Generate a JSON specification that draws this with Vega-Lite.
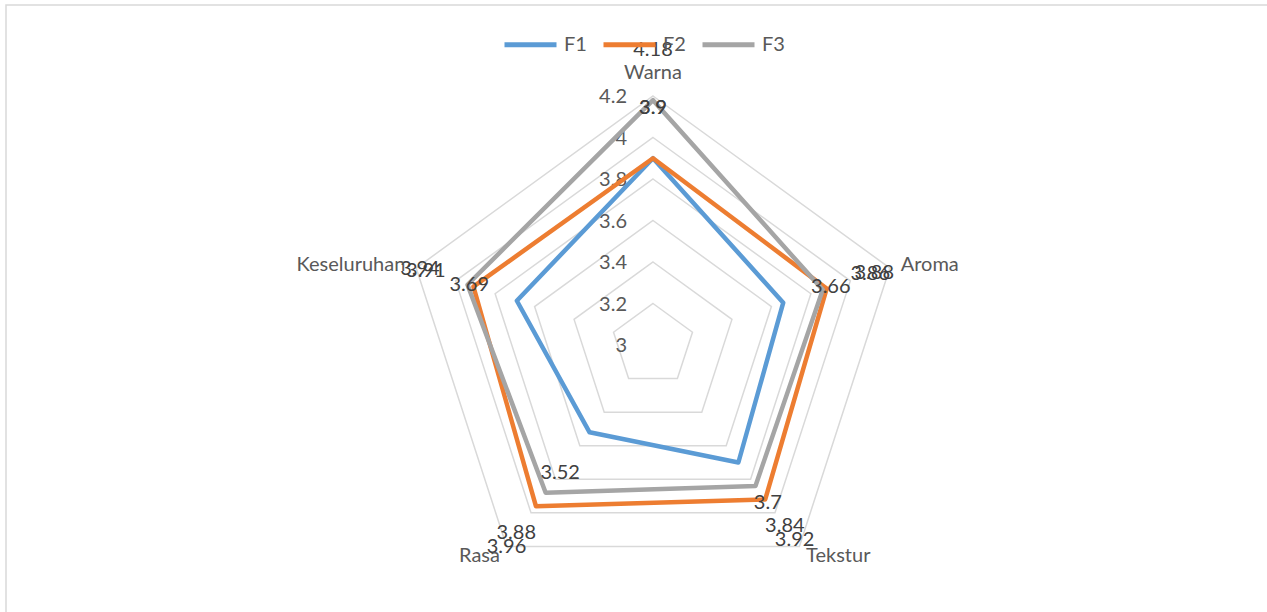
{
  "$schema": "https://vega.github.io/schema/vega-lite/v6.json",
  "width": 1265,
  "height": 610,
  "autosize": {"type": "none"},
  "padding": {"left": 6, "top": 5, "right": 0, "bottom": 0},
  "background": "white",
  "view": {"stroke": "#D9D9D9", "strokeWidth": 1.5},
  "config": {"font": "Lato"},
  "datasets": {
    "scores": [
      {"axis": "Warna", "series": "F1", "value": 3.9},
      {"axis": "Aroma", "series": "F1", "value": 3.66},
      {"axis": "Tekstur", "series": "F1", "value": 3.7},
      {"axis": "Rasa", "series": "F1", "value": 3.52},
      {"axis": "Keseluruhan", "series": "F1", "value": 3.69},
      {"axis": "Warna", "series": "F2", "value": 3.9},
      {"axis": "Aroma", "series": "F2", "value": 3.88},
      {"axis": "Tekstur", "series": "F2", "value": 3.92},
      {"axis": "Rasa", "series": "F2", "value": 3.96},
      {"axis": "Keseluruhan", "series": "F2", "value": 3.91},
      {"axis": "Warna", "series": "F3", "value": 4.18},
      {"axis": "Aroma", "series": "F3", "value": 3.86},
      {"axis": "Tekstur", "series": "F3", "value": 3.84},
      {"axis": "Rasa", "series": "F3", "value": 3.88},
      {"axis": "Keseluruhan", "series": "F3", "value": 3.94}
    ],
    "levels": [
      {"level": 3}, {"level": 3.2}, {"level": 3.4}, {"level": 3.6},
      {"level": 3.8}, {"level": 4}, {"level": 4.2}
    ],
    "axes": [
      {"axis": "Warna"}, {"axis": "Aroma"}, {"axis": "Tekstur"},
      {"axis": "Rasa"}, {"axis": "Keseluruhan"}
    ]
  },
  "layer": [
    {
      "data": {"name": "levels"},
      "transform": [
        {"filter": "datum.level > 3"},
        {"calculate": "['Warna','Aroma','Tekstur','Rasa','Keseluruhan']", "as": "axisList"},
        {"flatten": ["axisList"], "as": ["axis"]},
        {"calculate": "indexof(['Warna','Aroma','Tekstur','Rasa','Keseluruhan'], datum.axis)", "as": "i"},
        {"calculate": "datum.i * 2 * PI / 5", "as": "a"},
        {"calculate": "(datum.level - 3) * sin(datum.a)", "as": "px"},
        {"calculate": "(datum.level - 3) * cos(datum.a)", "as": "py"}
      ],
      "mark": {"type": "line", "interpolate": "linear-closed", "stroke": "#D9D9D9", "strokeWidth": 1.5},
      "encoding": {
        "x": {"field": "px", "type": "quantitative", "scale": {"domain": [-3.1181, 2.9783], "nice": false, "zero": false}, "axis": null},
        "y": {"field": "py", "type": "quantitative", "scale": {"domain": [-1.3012, 1.6386], "nice": false, "zero": false}, "axis": null},
        "detail": {"field": "level", "type": "nominal"},
        "order": {"field": "i", "type": "quantitative"}
      }
    },
    {
      "data": {"name": "levels"},
      "transform": [
        {"calculate": "0", "as": "px"},
        {"calculate": "datum.level - 3", "as": "py"}
      ],
      "mark": {"type": "text", "align": "right", "baseline": "middle", "dx": -26, "dy": 1, "fontSize": 20, "color": "#595959", "font": "Lato"},
      "encoding": {
        "x": {"field": "px", "type": "quantitative", "scale": {"domain": [-3.1181, 2.9783], "nice": false, "zero": false}, "axis": null},
        "y": {"field": "py", "type": "quantitative", "scale": {"domain": [-1.3012, 1.6386], "nice": false, "zero": false}, "axis": null},
        "text": {"field": "level", "type": "nominal"}
      }
    },
    {
      "data": {"name": "scores"},
      "transform": [
        {"calculate": "indexof(['Warna','Aroma','Tekstur','Rasa','Keseluruhan'], datum.axis)", "as": "i"},
        {"calculate": "datum.i * 2 * PI / 5", "as": "a"},
        {"calculate": "(datum.value - 3) * sin(datum.a)", "as": "px"},
        {"calculate": "(datum.value - 3) * cos(datum.a)", "as": "py"}
      ],
      "mark": {"type": "line", "interpolate": "linear-closed", "strokeWidth": 4.5, "strokeJoin": "round", "strokeCap": "round"},
      "encoding": {
        "x": {"field": "px", "type": "quantitative", "scale": {"domain": [-3.1181, 2.9783], "nice": false, "zero": false}, "axis": null},
        "y": {"field": "py", "type": "quantitative", "scale": {"domain": [-1.3012, 1.6386], "nice": false, "zero": false}, "axis": null},
        "color": {
          "field": "series", "type": "nominal",
          "scale": {"domain": ["F1", "F2", "F3"], "range": ["#5B9BD5", "#ED7D31", "#A5A5A5"]},
          "legend": {
            "title": null, "orient": "none", "legendX": 496, "legendY": 11,
            "direction": "horizontal", "symbolType": "stroke", "symbolSize": 2704,
            "symbolStrokeWidth": 5, "labelFontSize": 20, "labelFont": "Lato",
            "labelColor": "#595959", "columnPadding": 6, "labelOffset": 5
          }
        },
        "order": {"field": "i", "type": "quantitative"}
      }
    },
    {
      "data": {"name": "scores"},
      "transform": [
        {"calculate": "indexof(['Warna','Aroma','Tekstur','Rasa','Keseluruhan'], datum.axis)", "as": "i"},
        {"calculate": "datum.i * 2 * PI / 5", "as": "a"},
        {"calculate": "(datum.value - 3 + 0.241) * sin(datum.a)", "as": "px"},
        {"calculate": "(datum.value - 3 + 0.241) * cos(datum.a)", "as": "py"}
      ],
      "mark": {"type": "text", "align": "center", "baseline": "middle", "fontSize": 20, "color": "#404040", "font": "Lato"},
      "encoding": {
        "x": {"field": "px", "type": "quantitative", "scale": {"domain": [-3.1181, 2.9783], "nice": false, "zero": false}, "axis": null},
        "y": {"field": "py", "type": "quantitative", "scale": {"domain": [-1.3012, 1.6386], "nice": false, "zero": false}, "axis": null},
        "text": {"field": "value", "type": "nominal"}
      }
    },
    {
      "data": {"name": "axes"},
      "transform": [
        {"filter": "datum.axis === 'Warna'"},
        {"calculate": "0", "as": "px"},
        {"calculate": "1.2 + 0.055", "as": "py"}
      ],
      "mark": {"type": "text", "align": "center", "baseline": "middle", "dy": -12, "fontSize": 20, "color": "#595959", "font": "Lato"},
      "encoding": {
        "x": {"field": "px", "type": "quantitative", "scale": {"domain": [-3.1181, 2.9783], "nice": false, "zero": false}, "axis": null},
        "y": {"field": "py", "type": "quantitative", "scale": {"domain": [-1.3012, 1.6386], "nice": false, "zero": false}, "axis": null},
        "text": {"field": "axis", "type": "nominal"}
      }
    },
    {
      "data": {"name": "axes"},
      "transform": [
        {"filter": "datum.axis === 'Aroma' || datum.axis === 'Tekstur'"},
        {"calculate": "indexof(['Warna','Aroma','Tekstur','Rasa','Keseluruhan'], datum.axis)", "as": "i"},
        {"calculate": "datum.i * 2 * PI / 5", "as": "a"},
        {"calculate": "1.255 * sin(datum.a)", "as": "px"},
        {"calculate": "1.255 * cos(datum.a)", "as": "py"}
      ],
      "mark": {"type": "text", "align": "left", "baseline": "middle", "fontSize": 20, "color": "#595959", "font": "Lato"},
      "encoding": {
        "x": {"field": "px", "type": "quantitative", "scale": {"domain": [-3.1181, 2.9783], "nice": false, "zero": false}, "axis": null},
        "y": {"field": "py", "type": "quantitative", "scale": {"domain": [-1.3012, 1.6386], "nice": false, "zero": false}, "axis": null},
        "text": {"field": "axis", "type": "nominal"}
      }
    },
    {
      "data": {"name": "axes"},
      "transform": [
        {"filter": "datum.axis === 'Rasa' || datum.axis === 'Keseluruhan'"},
        {"calculate": "indexof(['Warna','Aroma','Tekstur','Rasa','Keseluruhan'], datum.axis)", "as": "i"},
        {"calculate": "datum.i * 2 * PI / 5", "as": "a"},
        {"calculate": "1.255 * sin(datum.a)", "as": "px"},
        {"calculate": "1.255 * cos(datum.a)", "as": "py"}
      ],
      "mark": {"type": "text", "align": "right", "baseline": "middle", "fontSize": 20, "color": "#595959", "font": "Lato"},
      "encoding": {
        "x": {"field": "px", "type": "quantitative", "scale": {"domain": [-3.1181, 2.9783], "nice": false, "zero": false}, "axis": null},
        "y": {"field": "py", "type": "quantitative", "scale": {"domain": [-1.3012, 1.6386], "nice": false, "zero": false}, "axis": null},
        "text": {"field": "axis", "type": "nominal"}
      }
    }
  ]
}
